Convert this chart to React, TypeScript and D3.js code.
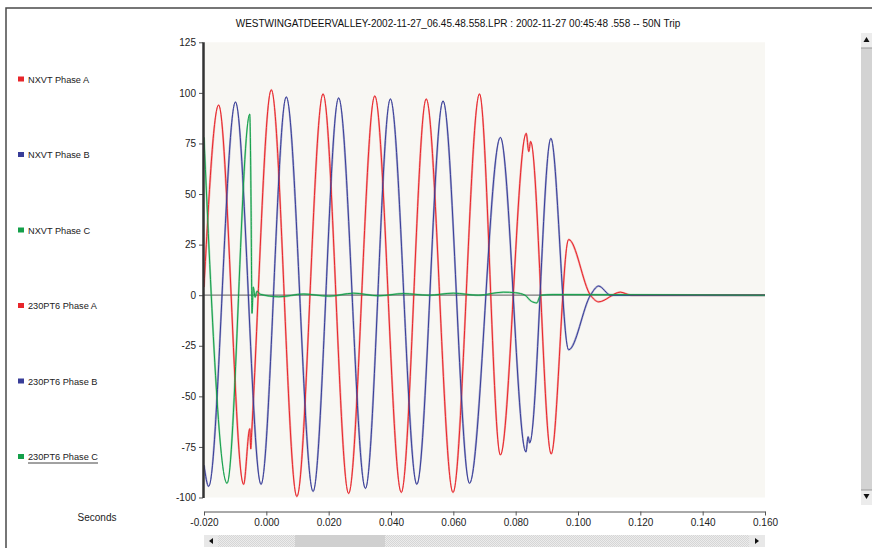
import React, { useEffect, useRef } from "react";
import * as d3 from "d3";

const title =
    "WESTWINGATDEERVALLEY-2002-11-27_06.45.48.558.LPR : 2002-11-27 00:45:48 .558 -- 50N Trip";

const seriesNames = [
    "NXVT Phase A",
    "NXVT Phase B",
    "NXVT Phase C",
    "230PT6 Phase A",
    "230PT6 Phase B",
    "230PT6 Phase C",
];

const yTicks = [-100, -75, -50, -25, 0, 25, 50, 75, 100, 125];
const xTicks = [-0.02, 0, 0.02, 0.04, 0.06, 0.08, 0.1, 0.12, 0.14, 0.16];

// [seconds, value]
const phaseA: [number, number][] = [
    [-0.02, 4], [-0.0153, 94], [-0.0073, -93.5], [-0.0053, -66], [-0.005, -76], [-0.0047, -68],
    [0.0016, 101.5], [0.0098, -99.5], [0.0182, 99.5], [0.0264, -98], [0.0348, 98.5],
    [0.0433, -97.5], [0.0513, 97], [0.0599, -97.5], [0.0684, 99.5], [0.0751, -79],
    [0.0834, 80], [0.0842, 71], [0.0848, 76], [0.0914, -78.5], [0.097, 27.5], [0.104, 0],
    [0.1066, -3.3], [0.1136, 1.5], [0.117, 0], [0.16, 0],
];

const phaseB: [number, number][] = [
    [-0.02, -84], [-0.0185, -94.5], [-0.0099, 95.5], [-0.0017, -93.5], [0.0064, 98],
    [0.015, -97], [0.0232, 97.5], [0.0318, -95.5], [0.0398, 97], [0.0483, -93.5],
    [0.0567, 96], [0.0652, -93], [0.0751, 78], [0.0833, -77.5], [0.084, -70], [0.0845, -73],
    [0.0913, 77.5], [0.097, -27], [0.104, 0], [0.1066, 4.5], [0.1105, 0], [0.16, 0],
];

const phaseC: [number, number][] = [
    [-0.02, 78], [-0.0126, -93], [-0.0053, 89.5], [-0.0049, 45], [-0.0046, -9], [-0.0042, 4],
    [-0.0036, -1], [-0.003, 2], [-0.002, 0.5], [0.004, -0.8], [0.012, 0.6], [0.02, -0.5],
    [0.028, 1], [0.036, -0.3], [0.044, 0.8], [0.052, 0], [0.06, 1], [0.068, 0], [0.076, 1.5],
    [0.08, 1.2], [0.083, 0], [0.085, -3], [0.0868, -3.8], [0.088, 0], [0.092, 0.3], [0.16, 0],
];

const seriesData = [phaseA, phaseB, phaseC, phaseA, phaseB, phaseC];
const colors = ["#e8262b", "#383d98", "#14a04a", "#e8262b", "#383d98", "#14a04a"];

export default function App() {
    const svgRef = useRef<SVGSVGElement>(null);

    useEffect(() => {
        const svg = d3.select(svgRef.current);
        svg.selectAll("*").remove();
        const width = 872;
        const height = 548;
        const plot = { left: 204, right: 765, top: 42.3, bottom: 497.5 };
        const font = "'Liberation Sans', Arial, sans-serif";

        svg.attr("width", width).attr("height", height).style("font-family", font);
        svg.append("rect").attr("width", width).attr("height", height).attr("fill", "#ffffff");

        // frame
        svg.append("path").attr("d", `M6,${height} V8 H${width}`).attr("fill", "none")
            .attr("stroke", "#4a4a4a").attr("stroke-width", 1.5);

        const x = d3.scaleLinear().domain([-0.02, 0.16]).range([plot.left, plot.right]);
        const y = d3.scaleLinear().domain([-100, 125]).range([plot.bottom, plot.top]);

        svg.append("rect")
            .attr("x", plot.left).attr("y", plot.top)
            .attr("width", plot.right - plot.left).attr("height", plot.bottom - plot.top)
            .attr("fill", "#f8f7f3");

        // title
        svg.append("text").attr("x", 458).attr("y", 27).attr("text-anchor", "middle")
            .style("font-size", "10px").attr("fill", "#111").text(title);

        // zero line
        svg.append("line").attr("x1", plot.left).attr("x2", plot.right)
            .attr("y1", y(0)).attr("y2", y(0)).attr("stroke", "#7a7a7a").attr("stroke-width", 1.2);

        // traces
        const line = d3.line<[number, number]>()
            .x((d) => x(d[0])).y((d) => y(d[1])).curve(d3.curveMonotoneX);
        const g = svg.append("g");
        [3, 4, 5, 0, 1, 2].forEach((i) => {
            const under = i >= 3;
            g.append("path")
                .attr("d", line(seriesData[i]))
                .attr("fill", "none")
                .attr("stroke", colors[i])
                .attr("stroke-opacity", under ? 0.4 : 1)
                .attr("stroke-width", under ? 2 : 1);
        });

        // y axis
        const yAxis = svg.append("g").attr("transform", `translate(${plot.left - 1},0)`)
            .call(d3.axisLeft(y).tickValues(yTicks).tickSize(4).tickPadding(3)
                .tickFormat((d) => String(d)));
        yAxis.select(".domain").remove();
        yAxis.selectAll("line").attr("stroke", "#555");
        yAxis.selectAll("text").style("font-size", "10px").style("font-family", font).attr("fill", "#222");
        svg.append("line").attr("x1", plot.left - 0.5).attr("x2", plot.left - 0.5)
            .attr("y1", plot.top).attr("y2", plot.bottom + 0.5)
            .attr("stroke", "#333").attr("stroke-width", 2.5);

        // x axis
        const xAxis = svg.append("g").attr("transform", "translate(0,511.5)")
            .call(d3.axisBottom(x).tickValues(xTicks).tickSize(4).tickSizeOuter(0).tickPadding(3)
                .tickFormat((d) => (+d).toFixed(3)));
        xAxis.select(".domain").attr("stroke", "#555");
        xAxis.selectAll("line").attr("stroke", "#555");
        xAxis.selectAll("text").style("font-size", "10px").style("font-family", font).attr("fill", "#222");

        svg.append("text").attr("x", 97).attr("y", 521).attr("text-anchor", "middle")
            .style("font-size", "10px").attr("fill", "#222").text("Seconds");

        // legend
        const legend = svg.append("g");
        seriesNames.forEach((name, i) => {
            const ly = 79 + i * 75.5;
            legend.append("rect").attr("x", 18).attr("y", ly - 2.5).attr("width", 6).attr("height", 5)
                .attr("fill", colors[i]);
            legend.append("text").attr("x", 28).attr("y", ly + 3.5)
                .style("font-size", "9.2px").attr("fill", "#222").text(name);
        });
        const lastText = legend.selectAll<SVGTextElement, unknown>("text").nodes().pop();
        const lw = lastText ? lastText.getComputedTextLength() : 66;
        legend.append("line").attr("x1", 28).attr("x2", 28 + lw)
            .attr("y1", 79 + 5 * 75.5 + 6.5).attr("y2", 79 + 5 * 75.5 + 6.5)
            .attr("stroke", "#444").attr("stroke-width", 1);

        // scrollbar pattern
        const defs = svg.append("defs");
        const pat = defs.append("pattern").attr("id", "dots").attr("width", 2).attr("height", 2)
            .attr("patternUnits", "userSpaceOnUse");
        pat.append("rect").attr("width", 2).attr("height", 2).attr("fill", "#ececec");
        pat.append("rect").attr("width", 1).attr("height", 1).attr("fill", "#d6d6d6");
        pat.append("rect").attr("x", 1).attr("y", 1).attr("width", 1).attr("height", 1).attr("fill", "#d6d6d6");

        // horizontal scrollbar
        const hs = svg.append("g");
        hs.append("rect").attr("x", 204).attr("y", 535).attr("width", 561).attr("height", 12).attr("fill", "url(#dots)");
        hs.append("rect").attr("x", 295).attr("y", 535).attr("width", 90).attr("height", 12).attr("fill", "#d0d0d0");
        hs.append("rect").attr("x", 204).attr("y", 535).attr("width", 14).attr("height", 12).attr("fill", "#e8e8e8");
        hs.append("rect").attr("x", 749).attr("y", 535).attr("width", 16).attr("height", 12).attr("fill", "#e8e8e8");
        hs.append("path").attr("d", "M209,541 L213,538 L213,544 Z").attr("fill", "#111");
        hs.append("path").attr("d", "M759,541 L755,538 L755,544 Z").attr("fill", "#111");

        // vertical scrollbar
        const vs = svg.append("g");
        vs.append("rect").attr("x", 861).attr("y", 33).attr("width", 11).attr("height", 472).attr("fill", "#d3d3d3");
        vs.append("rect").attr("x", 861).attr("y", 33).attr("width", 11).attr("height", 15).attr("fill", "#ececec");
        vs.append("rect").attr("x", 861).attr("y", 490).attr("width", 11).attr("height", 15).attr("fill", "#ececec");
        vs.append("line").attr("x1", 861).attr("x2", 872).attr("y1", 48).attr("y2", 48).attr("stroke", "#999");
        vs.append("line").attr("x1", 861).attr("x2", 872).attr("y1", 490).attr("y2", 490).attr("stroke", "#999");
        vs.append("path").attr("d", "M866.5,37 L863.5,42 L869.5,42 Z").attr("fill", "#111");
        vs.append("path").attr("d", "M866.5,499 L863.5,494 L869.5,494 Z").attr("fill", "#111");
    }, []);

    return <svg ref={svgRef} style={{ position: "absolute", left: 0, top: 0 }}></svg>;
}
